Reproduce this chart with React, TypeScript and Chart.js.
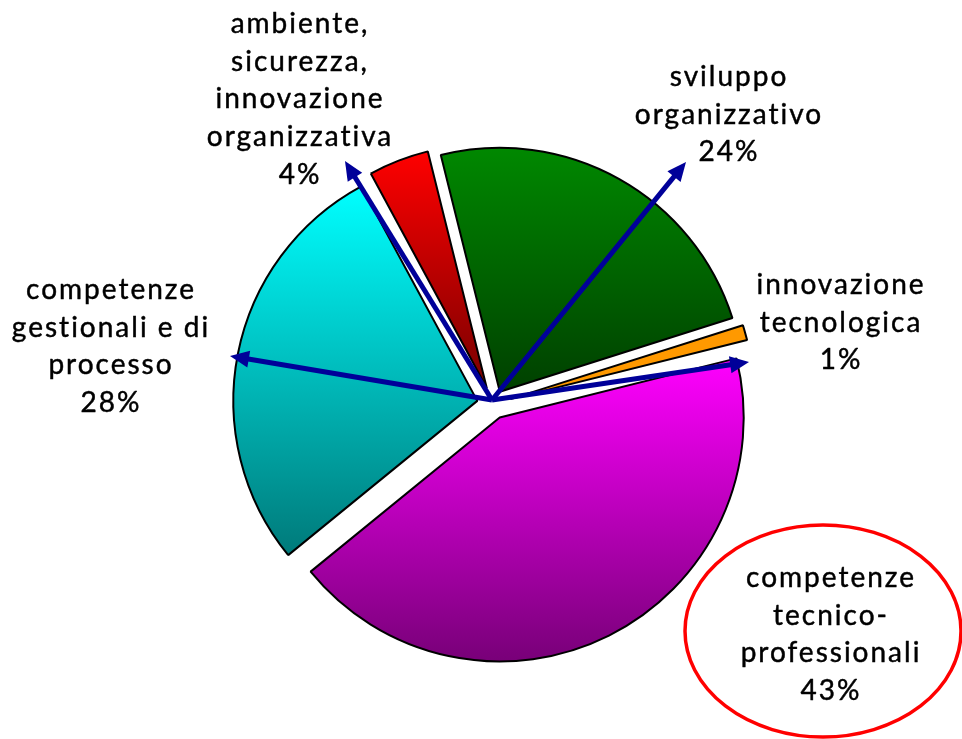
import React, { useEffect, useRef } from "react";
import { Chart, registerables } from "chart.js";

Chart.register(...registerables);

// ---- data ----
const categories: string[][] = [
  ["sviluppo", "organizzativo"],
  ["innovazione", "tecnologica"],
  ["competenze", "tecnico-", "professionali"],
  ["competenze", "gestionali e di", "processo"],
  ["ambiente,", "sicurezza,", "innovazione", "organizzativa"],
];
const values: number[] = [24, 1, 43, 28, 4];
const topColors: string[] = ["#008800", "#ff9900", "#ff00ff", "#00ffff", "#ff0000"];
const bottomColors: string[] = ["#004000", "#ff9900", "#780078", "#007a7a", "#780000"];

// ---- styling / annotation layout ----
const explode: number[] = [14, 18, 15, 16, 17];
const labelAnchors = [
  { x: 728, y: 86 },
  { x: 840, y: 294 },
  { x: 830, y: 587 },
  { x: 110, y: 299 },
  { x: 299, y: 33 },
];
const arrowTips: ({ x: number; y: number } | null)[] = [
  { x: 686, y: 162 },
  { x: 749, y: 362 },
  null,
  { x: 230, y: 356 },
  { x: 345, y: 161 },
];
const highlight = { index: 2, cx: 823, cy: 631, rx: 138, ry: 106 };
const LINE_H = 37.7;
const FONT = "28px Lato";
const ARROW_COLOR = "#000099";

function drawArrow(ctx: CanvasRenderingContext2D, x0: number, y0: number, x1: number, y1: number) {
  const ang = Math.atan2(y1 - y0, x1 - x0);
  const headLen = 19;
  const headW = 8.5;
  const bx = x1 - Math.cos(ang) * headLen;
  const by = y1 - Math.sin(ang) * headLen;
  ctx.strokeStyle = ARROW_COLOR;
  ctx.fillStyle = ARROW_COLOR;
  ctx.lineWidth = 5;
  ctx.lineCap = "butt";
  ctx.beginPath();
  ctx.moveTo(x0, y0);
  ctx.lineTo(bx + Math.cos(ang) * 2, by + Math.sin(ang) * 2);
  ctx.stroke();
  ctx.beginPath();
  ctx.moveTo(x1, y1);
  ctx.lineTo(bx + Math.sin(ang) * headW, by - Math.cos(ang) * headW);
  ctx.lineTo(bx - Math.sin(ang) * headW, by + Math.cos(ang) * headW);
  ctx.closePath();
  ctx.fill();
}

const pieDecor = {
  id: "pieDecor",
  afterDatasetUpdate(chart: any, args: any) {
    const meta = args.meta;
    meta.data.forEach((arc: any, i: number) => {
      const mid = (arc.startAngle + arc.endAngle) / 2;
      const d = explode[i] || 0;
      arc.x += Math.cos(mid) * d;
      arc.y += Math.sin(mid) * d;
    });
  },
  beforeDatasetsDraw(chart: any) {
    const ctx = chart.ctx as CanvasRenderingContext2D;
    const meta = chart.getDatasetMeta(0);
    meta.data.forEach((arc: any, i: number) => {
      const { x, y, startAngle, endAngle, outerRadius } = arc;
      let minY = y;
      let maxY = y;
      const steps = 90;
      for (let k = 0; k <= steps; k++) {
        const a = startAngle + ((endAngle - startAngle) * k) / steps;
        const py = y + Math.sin(a) * outerRadius;
        minY = Math.min(minY, py);
        maxY = Math.max(maxY, py);
      }
      const g = ctx.createLinearGradient(0, minY, 0, maxY);
      g.addColorStop(0, topColors[i]);
      g.addColorStop(1, bottomColors[i]);
      arc.options = { ...arc.options, backgroundColor: g };
    });
  },
  afterDatasetsDraw(chart: any) {
    const ctx = chart.ctx as CanvasRenderingContext2D;
    const area = chart.chartArea;
    const cx = (area.left + area.right) / 2;
    const cy = (area.top + area.bottom) / 2;
    ctx.save();
    // arrows
    arrowTips.forEach((tip) => {
      if (tip) drawArrow(ctx, cx - 1, cy - 4, tip.x, tip.y);
    });
    // highlight ellipse
    ctx.strokeStyle = "#ff0000";
    ctx.lineWidth = 3.5;
    ctx.beginPath();
    ctx.ellipse(highlight.cx, highlight.cy, highlight.rx, highlight.ry, 0, 0, Math.PI * 2);
    ctx.stroke();
    // labels
    ctx.font = FONT;
    ctx.fillStyle = "#000000";
    ctx.strokeStyle = "#000000";
    ctx.lineWidth = 0.45;
    ctx.lineJoin = "round";
    ctx.textAlign = "center";
    ctx.textBaseline = "alphabetic";
    (ctx as any).letterSpacing = "2px";
    categories.forEach((lines, i) => {
      const all = [...lines, `${values[i]}%`];
      const a = labelAnchors[i];
      all.forEach((t, k) => {
        ctx.fillText(t, a.x + 1, a.y + k * LINE_H);
        ctx.strokeText(t, a.x + 1, a.y + k * LINE_H);
      });
    });
    ctx.restore();
  },
};

export default function App() {
  const ref = useRef<HTMLCanvasElement | null>(null);
  useEffect(() => {
    document.body.style.margin = "0";
    const canvas = ref.current;
    if (!canvas) return;
    const chart = new Chart(canvas, {
      type: "pie",
      data: {
        labels: categories.map((c) => c.join(" ")),
        datasets: [
          {
            data: values,
            backgroundColor: topColors,
            borderColor: "#000000",
            borderWidth: 2,
          },
        ],
      },
      options: {
        responsive: false,
        animation: false,
        devicePixelRatio: 1,
        rotation: -14,
        radius: 244,
        layout: { padding: { left: 24, top: 69, right: 0, bottom: 0 } },
        plugins: {
          legend: { display: false },
          tooltip: { enabled: false },
        },
        events: [],
      },
      plugins: [pieDecor],
    });
    return () => chart.destroy();
  }, []);
  return (
    <div style={{ position: "fixed", left: 0, top: 0, width: 962, height: 739, background: "#ffffff" }}>
      <canvas ref={ref} width={962} height={739} style={{ display: "block", width: 962, height: 739 }} />
    </div>
  );
}
